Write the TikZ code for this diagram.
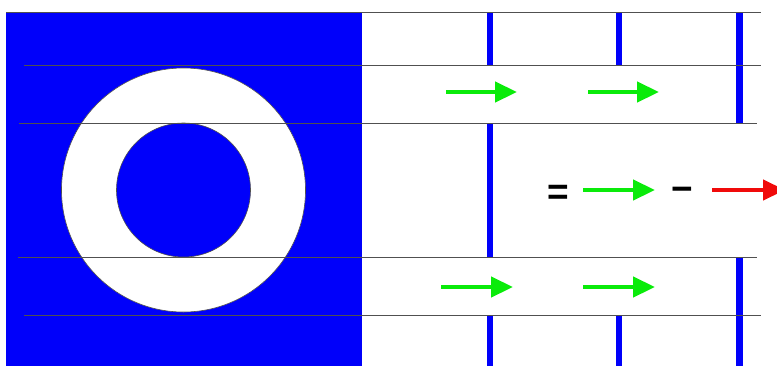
\documentclass[tikz,border=0pt]{standalone}
\usepackage{fontspec}
\setmainfont{Liberation Sans}
\usetikzlibrary{arrows.meta}
\definecolor{pblue}{RGB}{0,0,250}
\definecolor{pgreen}{RGB}{10,235,10}
\definecolor{pred}{RGB}{240,10,10}
\definecolor{gline}{RGB}{80,80,80}
\tikzset{
  hline/.style={draw=gline, line width=1pt},
  bluebar/.style={draw=pblue, line width=6.5pt},
  vecarrow/.style={line width=4.5pt, -{Triangle[length=22pt,width=20pt]}},
  greenvec/.style={vecarrow, draw=pgreen},
  redvec/.style={vecarrow, draw=pred},
  signtext/.style={inner sep=0pt, anchor=base, font=\fontsize{37}{42}\selectfont\bfseries}
}
\begin{document}
\begin{tikzpicture}[x=1pt,y=-1pt]
\useasboundingbox (0,0) rectangle (777,365);
\clip (0,0) rectangle (777,365);
% blue square with ring
\fill[pblue] (6,12) rectangle (362,366);
\filldraw[fill=white, draw=gline, line width=0.6pt] (183.5,190) circle[radius=122pt];
\filldraw[fill=pblue, draw=gline, line width=0.6pt] (183.5,190) circle[radius=67pt];
% vertical blue bars
\draw[bluebar] (490,12) -- (490,65);
\draw[bluebar] (490,123) -- (490,257);
\draw[bluebar] (490,315) -- (490,366);
\draw[bluebar] (619,12) -- (619,65);
\draw[bluebar] (619,315) -- (619,366);
\draw[bluebar] (739.5,12) -- (739.5,123);
\draw[bluebar] (739.5,257) -- (739.5,366);
% horizontal lines
\draw[hline] (6,12) -- (761,12);
\draw[hline] (24,65) -- (761,65);
\draw[hline] (19,123) -- (757,123);
\draw[hline] (18,257) -- (757,257);
\draw[hline] (24,315) -- (761,315);
% arrow end points
\coordinate (ta1) at (446,92);  \coordinate (tb1) at (517,92);
\coordinate (ta2) at (588,92);  \coordinate (tb2) at (659,92);
\coordinate (ba1) at (441,287); \coordinate (bb1) at (513,287);
\coordinate (ba2) at (583,287); \coordinate (bb2) at (655,287);
\coordinate (ma) at (583,190);  \coordinate (mb) at (655,190);
\coordinate (ra) at (712,190);  \coordinate (rb) at (785,190);
% arrows
\draw[greenvec] (ta1) -- (tb1);
\draw[greenvec] (ta2) -- (tb2);
\draw[greenvec] (ba1) -- (bb1);
\draw[greenvec] (ba2) -- (bb2);
\draw[greenvec] (ma) -- (mb);
\draw[redvec] (ra) -- (rb);
% signs
\node[signtext] (eq) at (558,204) {=};
\node[signtext] (minus) at (682,201) {−};
\end{tikzpicture}
\end{document}
